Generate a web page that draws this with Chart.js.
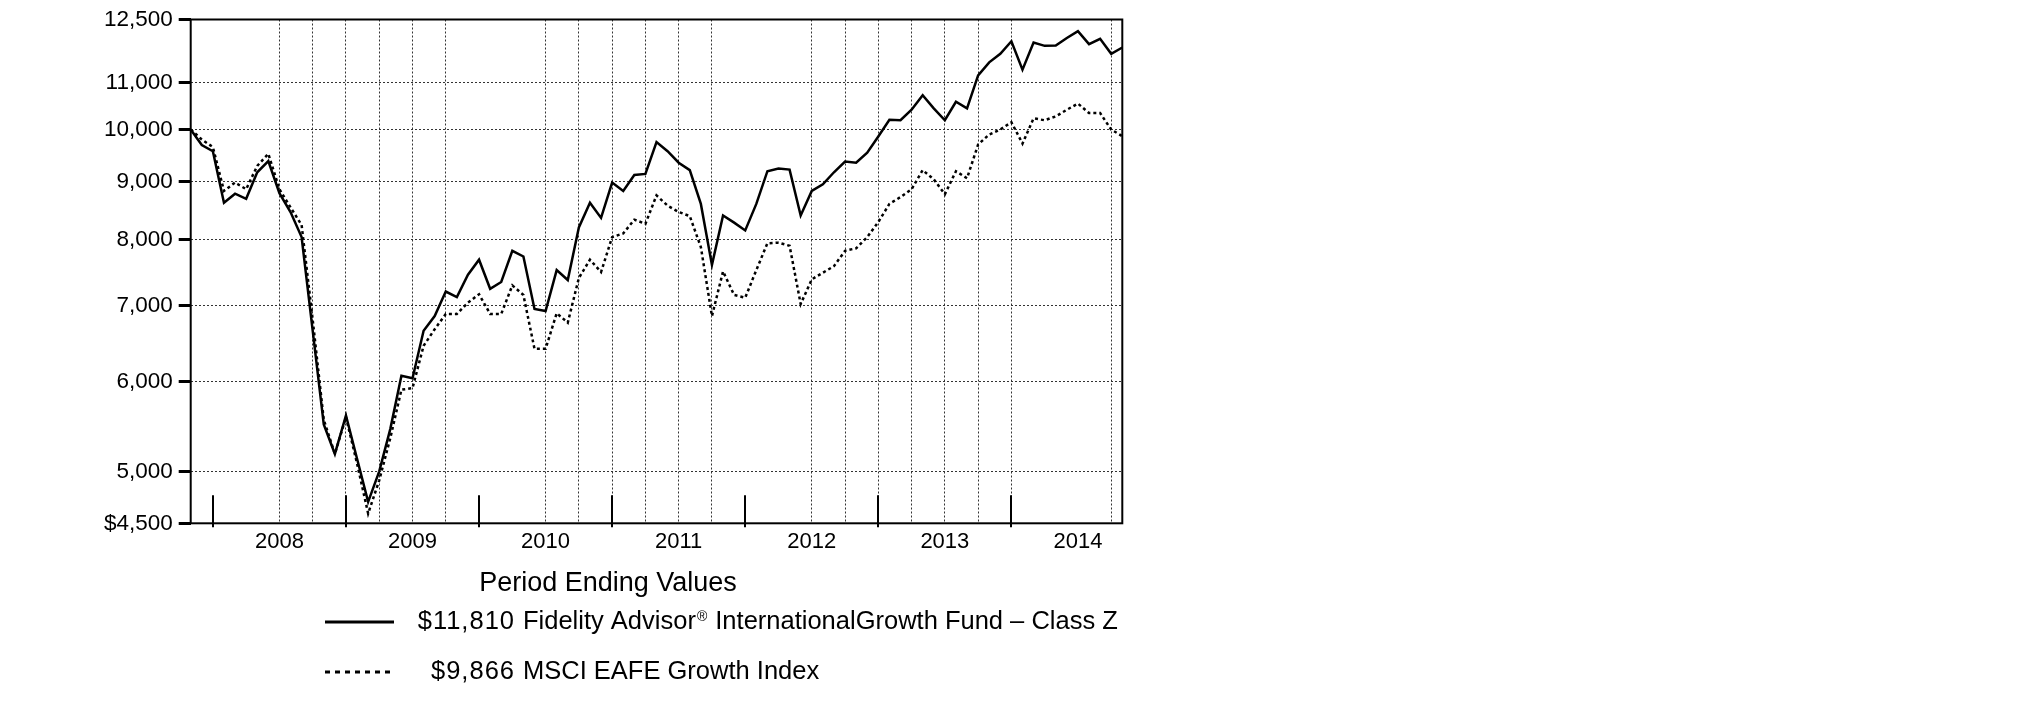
<!DOCTYPE html>
<html>
<head>
<meta charset="utf-8">
<title>Fidelity Advisor International Growth Fund – Class Z</title>
<script src="https://cdn.jsdelivr.net/npm/chart.js@4.4.1/dist/chart.umd.min.js"></script>
<style>
  html, body { margin: 0; padding: 0; background: #fff; }
  #wrap { width: 2025px; height: 717px; }
</style>
</head>
<body>
<div id="wrap"><canvas id="growth" width="2025" height="717"></canvas></div>
<script>
const months = [
  'Oct-07', 'Nov-07', 'Dec-07',
  'Jan-08', 'Feb-08', 'Mar-08', 'Apr-08', 'May-08', 'Jun-08', 'Jul-08', 'Aug-08', 'Sep-08', 'Oct-08', 'Nov-08', 'Dec-08',
  'Jan-09', 'Feb-09', 'Mar-09', 'Apr-09', 'May-09', 'Jun-09', 'Jul-09', 'Aug-09', 'Sep-09', 'Oct-09', 'Nov-09', 'Dec-09',
  'Jan-10', 'Feb-10', 'Mar-10', 'Apr-10', 'May-10', 'Jun-10', 'Jul-10', 'Aug-10', 'Sep-10', 'Oct-10', 'Nov-10', 'Dec-10',
  'Jan-11', 'Feb-11', 'Mar-11', 'Apr-11', 'May-11', 'Jun-11', 'Jul-11', 'Aug-11', 'Sep-11', 'Oct-11', 'Nov-11', 'Dec-11',
  'Jan-12', 'Feb-12', 'Mar-12', 'Apr-12', 'May-12', 'Jun-12', 'Jul-12', 'Aug-12', 'Sep-12', 'Oct-12', 'Nov-12', 'Dec-12',
  'Jan-13', 'Feb-13', 'Mar-13', 'Apr-13', 'May-13', 'Jun-13', 'Jul-13', 'Aug-13', 'Sep-13', 'Oct-13', 'Nov-13', 'Dec-13',
  'Jan-14', 'Feb-14', 'Mar-14', 'Apr-14', 'May-14', 'Jun-14', 'Jul-14', 'Aug-14', 'Sep-14', 'Oct-14'
];

// fund, class Z (solid line)
const fundValues = [
  10000, 9690, 9570,
  8620, 8780, 8690, 9170, 9380, 8790, 8460, 8040, 6650, 5500, 5180, 5600,
  5130, 4700, 5000, 5450, 6070, 6040, 6650, 6850, 7200, 7120, 7450, 7680,
  7240, 7340, 7820, 7730, 6950, 6920, 7520, 7370, 8200, 8620, 8360, 8980,
  8830, 9120, 9140, 9750, 9570, 9350, 9210, 8600, 7600, 8400, 8280, 8150,
  8600, 9190, 9240, 9220, 8400, 8830, 8950, 9170, 9370, 9350, 9540, 9860,
  10200, 10190, 10410, 10720, 10440, 10190, 10580, 10440, 11160, 11460, 11660, 11960,
  11290, 11930, 11850, 11860, 12040, 12210, 11890, 12020, 11660, 11810
];

// MSCI EAFE Growth (dotted line)
const indexValues = [
  10000, 9800, 9650,
  8830, 8980, 8860, 9290, 9520, 8860, 8540, 8240, 6800, 5550, 5180, 5580,
  5080, 4590, 4910, 5350, 5900, 5920, 6450, 6670, 6880, 6880, 7040, 7160,
  6880, 6880, 7290, 7150, 6410, 6410, 6890, 6760, 7400, 7680, 7490, 8040,
  8100, 8330, 8260, 8750, 8570, 8460, 8390, 7880, 6850, 7500, 7150, 7110,
  7520, 7940, 7950, 7900, 7020, 7380, 7480, 7580, 7820, 7860, 8040, 8290,
  8600, 8720, 8860, 9210, 9040, 8770, 9190, 9060, 9700, 9900, 10000, 10150,
  9720, 10230, 10190, 10270, 10410, 10540, 10340, 10340, 10000, 9866
];

const seriesNames = ['Fidelity Advisor® InternationalGrowth Fund – Class Z', 'MSCI EAFE Growth Index'];
const yTicks = [4500, 5000, 6000, 7000, 8000, 9000, 10000, 11000, 12500];
const yearLabels = ['2008', '2009', '2010', '2011', '2012', '2013', '2014'];
const yearLabelMonths = ['Jun-08', 'Jun-09', 'Jun-10', 'Jun-11', 'Jun-12', 'Jun-13', 'Jun-14'];
const yearTickMonths = ['Dec-07', 'Dec-08', 'Dec-09', 'Dec-10', 'Dec-11', 'Dec-12', 'Dec-13'];
const gridMonths = [
  'Jun-08', 'Sep-08', 'Dec-08', 'Mar-09', 'Jun-09', 'Sep-09',
  'Jun-10', 'Sep-10', 'Dec-10', 'Mar-11', 'Jun-11', 'Sep-11',
  'Jun-12', 'Sep-12', 'Dec-12', 'Mar-13', 'Jun-13', 'Sep-13', 'Dec-13', 'Sep-14'
];
const legendTitle = 'Period Ending Values';

const FONT = '"Liberation Sans", Arial, Helvetica, sans-serif';
const GRID = '#333';
const NONE = 'rgba(0,0,0,0)';

// frame round the plot and the long year ticks on the bottom axis
const frameAndYears = {
  id: 'frameAndYears',
  beforeDatasetsDraw(chart) {
    const { ctx, chartArea: a, scales: { x } } = chart;
    ctx.save();
    ctx.strokeStyle = '#000';
    ctx.lineWidth = 2;
    ctx.strokeRect(a.left, a.top, a.right - a.left, a.bottom - a.top);
    yearTickMonths.forEach(m => {
      const px = Math.round(x.getPixelForValue(months.indexOf(m)));
      ctx.beginPath();
      ctx.moveTo(px, a.bottom - 28);
      ctx.lineTo(px, a.bottom + 4);
      ctx.stroke();
    });
    ctx.restore();
  }
};

// "Period Ending Values" block under the chart
const periodLegend = {
  id: 'periodLegend',
  afterDraw(chart) {
    const { ctx } = chart;
    ctx.save();
    ctx.fillStyle = '#000';
    ctx.strokeStyle = '#000';
    ctx.textBaseline = 'middle';
    ctx.font = `27px ${FONT}`;
    ctx.textAlign = 'center';
    ctx.fillText(legendTitle, 608, 584);

    chart.data.datasets.forEach((ds, i) => {
      const y = 622 + i * 50;
      ctx.lineWidth = 3;
      ctx.setLineDash(ds.borderDash && ds.borderDash.length ? [5, 5] : []);
      ctx.beginPath();
      ctx.moveTo(325, y);
      ctx.lineTo(394, y);
      ctx.stroke();
      ctx.setLineDash([]);

      const last = ds.data[ds.data.length - 1];
      ctx.font = `25.5px ${FONT}`;
      ctx.textAlign = 'right';
      ctx.letterSpacing = '1px';
      ctx.fillText('$' + last.toLocaleString('en-US'), 515, y);
      ctx.letterSpacing = '0px';

      ctx.textAlign = 'left';
      const parts = ds.label.split('®');
      let tx = 523;
      ctx.fillText(parts[0], tx, y);
      if (parts.length > 1) {
        tx += ctx.measureText(parts[0]).width + 1;
        ctx.font = `14px ${FONT}`;
        ctx.fillText('®', tx, y - 5);
        tx += ctx.measureText('®').width + 1;
        ctx.font = `25.5px ${FONT}`;
        ctx.fillText(parts[1], tx, y);
      }
    });
    ctx.restore();
  }
};

new Chart(document.getElementById('growth'), {
  type: 'line',
  data: {
    labels: months,
    datasets: [
      {
        label: seriesNames[0],
        data: fundValues,
        borderColor: '#000',
        borderWidth: 2.5,
        pointRadius: 0,
        tension: 0,
        fill: false
      },
      {
        label: seriesNames[1],
        data: indexValues,
        borderColor: '#000',
        borderWidth: 2.5,
        borderDash: [3, 3],
        pointRadius: 0,
        tension: 0,
        fill: false
      }
    ]
  },
  options: {
    responsive: false,
    devicePixelRatio: 1,
    animation: false,
    layout: { padding: { left: 0, top: 13.5, right: 902.7, bottom: 0 } },
    plugins: {
      legend: { display: false },
      tooltip: { enabled: false }
    },
    scales: {
      x: {
        type: 'category',
        afterFit: s => { s.height = 193.7; },
        grid: {
          color: c => gridMonths.includes(months[c.index]) ? GRID : NONE,
          lineWidth: 1,
          drawTicks: false
        },
        border: { display: false, dash: [2, 2] },
        ticks: {
          autoSkip: false,
          maxRotation: 0,
          minRotation: 0,
          padding: 5,
          color: '#000',
          font: { family: FONT, size: 22 },
          callback: (v, i) => {
            const k = yearLabelMonths.indexOf(months[i]);
            return k >= 0 ? yearLabels[k] : '';
          }
        }
      },
      y: {
        type: 'logarithmic',
        min: 4500,
        max: 12500,
        afterBuildTicks: s => { s.ticks = yTicks.map(v => ({ value: v })); },
        afterFit: s => { s.width = 190.7; },
        grid: {
          color: c => (c.tick && (c.tick.value === 4500 || c.tick.value === 12500)) ? NONE : GRID,
          lineWidth: 1,
          drawTicks: true,
          tickLength: 12,
          tickWidth: 3,
          tickColor: '#000'
        },
        border: { display: false, dash: [2, 2] },
        ticks: {
          autoSkip: false,
          padding: 6,
          color: '#000',
          font: { family: FONT, size: 22.5 },
          callback: v => (v === 4500 ? '$' : '') + Number(v).toLocaleString('en-US')
        }
      }
    }
  },
  plugins: [frameAndYears, periodLegend]
});
</script>
</body>
</html>
